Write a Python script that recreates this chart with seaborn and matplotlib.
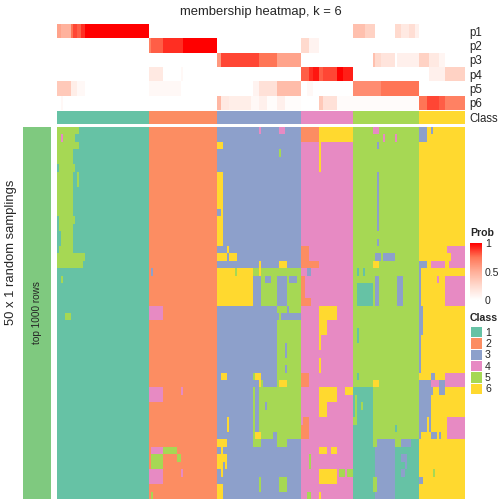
import matplotlib
matplotlib.use('Agg')
import matplotlib.pyplot as plt
from matplotlib.colors import ListedColormap, LinearSegmentedColormap, Normalize
from matplotlib.cm import ScalarMappable
import seaborn as sns
import numpy as np

sns.set_style('white')
plt.rcParams['font.family'] = ['Liberation Sans', 'DejaVu Sans']

# consensus classes (columns = samples, sorted by class)
class_ids = [1, 2, 3, 4, 5, 6]
class_colors = ['#66C2A5', '#FC8D62', '#8DA0CB', '#E78AC3', '#A6D854', '#FFD92F']
group_sizes = [46, 34, 42, 26, 33, 23]
n_rows = 50

# membership probabilities, run-length (value, n columns)
p1 = [(0.55, 2), (0.48, 5), (0.75, 1), (0.85, 2), (0.8, 2), (0.9, 2), (1.0, 32), (0, 102),
      (0.4, 6), (0.3, 5), (0, 10), (0.25, 3), (0.15, 4), (0.22, 3), (0.1, 2), (0, 23)]
p2 = [(0, 46), (0.7, 1), (0.8, 6), (0.9, 10), (1.0, 17), (0, 42), (0.25, 4), (0.08, 5), (0, 73)]
p3 = [(0, 80), (0.6, 2), (0.85, 19), (0.75, 9), (0.55, 12), (0, 36), (0.4, 1), (0.25, 3),
      (0.18, 7), (0, 1), (0.1, 11), (0.3, 5), (0.15, 5), (0.07, 3), (0, 10)]
p4 = [(0, 46), (0.15, 7), (0, 9), (0.05, 1), (0, 59), (0.8, 4), (0.9, 2), (0.95, 3), (0.8, 2),
      (0.85, 7), (1.0, 3), (0.93, 5), (0, 38), (0.1, 8), (0.3, 10)]
p5 = [(0.35, 7), (0.12, 3), (0.05, 4), (0, 32), (0.05, 16), (0, 36), (0.08, 3), (0.2, 9),
      (0.42, 12), (0, 3), (0.05, 3), (0, 20), (0.65, 14), (0.75, 19), (0, 23)]
p6 = [(0, 2), (0.05, 1), (0, 77), (0.45, 2), (0.15, 4), (0.12, 11), (0.05, 4), (0.1, 4),
      (0.02, 5), (0.1, 4), (0.02, 8), (0, 9), (0.35, 2), (0.2, 7), (0.03, 41), (0.75, 4),
      (0.85, 6), (0.8, 3), (0.7, 10)]

# class of each sample in each random sampling: (class, row_from, row_to, col_from, col_to)
dev_g1 = [(5, 0, 0, 0, 10), (5, 1, 1, 0, 8), (4, 1, 1, 2, 2), (5, 2, 2, 0, 10), (5, 3, 4, 0, 7),
          (5, 5, 5, 1, 8), (5, 6, 11, 0, 7), (5, 6, 7, 10, 10), (5, 12, 12, 1, 8),
          (5, 13, 13, 1, 7), (5, 14, 15, 2, 7), (5, 16, 16, 1, 7), (5, 17, 17, 0, 13),
          (5, 18, 18, 0, 12), (5, 20, 20, 2, 2), (5, 25, 25, 4, 6)]
dev_g2 = [(3, 19, 19, 47, 47), (4, 24, 25, 46, 52), (4, 35, 36, 46, 52), (4, 35, 35, 62, 62),
          (4, 43, 43, 47, 52), (5, 43, 43, 53, 59), (5, 44, 45, 47, 52), (5, 44, 44, 60, 61),
          (4, 46, 47, 46, 52), (4, 46, 46, 62, 62), (5, 49, 49, 47, 47)]
dev_g3 = [(4, 0, 0, 101, 101), (4, 0, 0, 111, 113), (6, 2, 2, 80, 82), (5, 3, 3, 111, 111),
          (6, 6, 15, 80, 82), (3, 11, 11, 80, 81), (6, 16, 16, 85, 85), (6, 17, 17, 80, 84),
          (6, 17, 17, 86, 89), (6, 18, 18, 101, 101), (6, 18, 18, 111, 114),
          (6, 19, 23, 80, 97), (5, 19, 19, 89, 89), (5, 19, 19, 98, 100), (6, 19, 19, 101, 101),
          (5, 19, 19, 102, 121), (5, 20, 23, 102, 109), (3, 20, 20, 104, 106),
          (5, 20, 23, 115, 121), (3, 20, 20, 116, 119), (5, 24, 24, 110, 114),
          (5, 24, 24, 116, 121), (5, 25, 25, 111, 111), (5, 26, 34, 110, 121),
          (3, 29, 30, 114, 114), (3, 32, 32, 114, 114), (6, 33, 33, 82, 84), (5, 33, 33, 98, 98),
          (6, 33, 33, 99, 101), (6, 34, 34, 101, 101), (5, 34, 34, 102, 102),
          (6, 34, 34, 111, 114), (5, 35, 42, 98, 98), (5, 35, 40, 101, 121),
          (3, 37, 37, 104, 104), (6, 39, 40, 85, 85), (6, 41, 41, 99, 101),
          (5, 41, 41, 102, 107), (5, 41, 41, 110, 121), (5, 42, 42, 99, 101),
          (5, 42, 42, 110, 114), (6, 42, 42, 80, 84), (6, 43, 43, 82, 82), (6, 44, 44, 80, 84),
          (6, 45, 45, 80, 82), (6, 45, 45, 84, 84), (6, 46, 46, 82, 82), (5, 47, 48, 101, 101),
          (5, 47, 48, 111, 114), (6, 48, 49, 80, 82)]
dev_g4 = [(2, 0, 1, 122, 130), (6, 0, 1, 131, 147), (6, 2, 5, 131, 131), (2, 16, 17, 122, 125),
          (2, 18, 18, 122, 130), (3, 19, 19, 125, 126), (2, 20, 22, 122, 123),
          (2, 23, 23, 122, 126), (6, 24, 25, 131, 139), (6, 26, 27, 131, 134),
          (6, 28, 29, 131, 131), (6, 31, 32, 131, 131), (2, 33, 34, 122, 125),
          (6, 35, 36, 131, 139), (6, 35, 35, 144, 147), (6, 37, 38, 131, 134),
          (2, 39, 41, 123, 125), (2, 40, 41, 122, 122), (6, 43, 43, 131, 134),
          (6, 43, 43, 137, 139), (5, 44, 45, 126, 126), (6, 46, 47, 131, 139),
          (5, 46, 46, 141, 143), (5, 46, 46, 145, 147), (5, 49, 49, 125, 126),
          (6, 49, 49, 131, 131)]
dev_g5 = [(4, 0, 0, 158, 160), (4, 1, 1, 163, 163), (4, 1, 1, 169, 169), (3, 2, 2, 160, 160),
          (3, 6, 13, 160, 160), (3, 15, 15, 160, 160), (3, 17, 17, 159, 161),
          (3, 17, 17, 163, 168), (6, 18, 18, 158, 160), (1, 19, 19, 150, 150),
          (1, 19, 19, 153, 153), (1, 21, 23, 150, 157), (3, 20, 23, 159, 160),
          (3, 20, 23, 170, 172), (1, 27, 28, 150, 150), (1, 33, 33, 150, 150),
          (6, 34, 34, 158, 160), (1, 35, 49, 148, 157), (5, 36, 38, 149, 149),
          (5, 37, 37, 152, 152), (5, 39, 39, 148, 149), (1, 40, 40, 169, 169),
          (3, 42, 42, 160, 168), (3, 42, 42, 172, 176), (1, 42, 42, 177, 180),
          (1, 43, 49, 158, 158), (3, 43, 49, 159, 168), (1, 43, 49, 169, 180),
          (3, 44, 44, 172, 174), (3, 45, 45, 174, 174), (3, 46, 46, 172, 173),
          (5, 47, 48, 158, 159)]
dev_g6 = [(3, 0, 1, 181, 184), (3, 0, 0, 187, 187), (4, 16, 17, 195, 203), (6, 17, 17, 195, 196),
          (3, 18, 18, 181, 184), (4, 18, 18, 187, 193), (4, 18, 18, 196, 203),
          (3, 19, 23, 181, 181), (4, 20, 20, 190, 190), (4, 20, 23, 194, 203),
          (3, 24, 27, 181, 182), (3, 28, 32, 181, 181), (3, 33, 33, 187, 188),
          (4, 33, 33, 194, 203), (3, 34, 34, 181, 186), (4, 34, 34, 187, 190),
          (3, 34, 34, 191, 193), (4, 34, 34, 194, 203), (3, 35, 35, 181, 187),
          (3, 35, 35, 191, 193), (3, 36, 38, 181, 186), (3, 39, 40, 181, 184),
          (3, 39, 40, 186, 186), (4, 39, 41, 195, 203), (3, 41, 41, 181, 181),
          (3, 41, 41, 187, 189), (3, 41, 41, 191, 191), (5, 46, 46, 188, 188),
          (3, 47, 47, 181, 182)]


def expand(runs):
    return np.concatenate([np.full(n, v, dtype=float) for v, n in runs])


classes = np.repeat(class_ids, group_sizes)
prob = np.vstack([expand(p) for p in [p1, p2, p3, p4, p5, p6]])

mat = np.tile(classes, (n_rows, 1))
for dev in [dev_g1, dev_g2, dev_g3, dev_g4, dev_g5, dev_g6]:
    for k, r0, r1, c0, c1 in dev:
        mat[r0:r1 + 1, c0:c1 + 1] = k

class_cmap = ListedColormap(class_colors)
prob_cmap = LinearSegmentedColormap.from_list(
    'prob', [(0, '#FFFFFF'), (0.25, '#FFDACE'), (0.5, '#FFAE98'), (0.75, '#FF7657'), (1, '#FF0000')])

W = 504.0


def box(x0, y0, x1, y1):
    return [x0 / W, 1 - y1 / W, (x1 - x0) / W, (y1 - y0) / W]


fig = plt.figure(figsize=(7, 7), dpi=72)

ax_mem = fig.add_axes(box(57, 24, 465, 110))
sns.heatmap(prob, ax=ax_mem, cmap=prob_cmap, vmin=0, vmax=1, cbar=False,
            xticklabels=False, yticklabels=['p1', 'p2', 'p3', 'p4', 'p5', 'p6'])
ax_mem.yaxis.tick_right()
ax_mem.tick_params(axis='y', length=0, pad=4, labelsize=11.5, labelrotation=0)

ax_cls = fig.add_axes(box(57, 110.7, 465, 123.7))
sns.heatmap(classes[None, :], ax=ax_cls, cmap=class_cmap, vmin=0.5, vmax=6.5, cbar=False,
            xticklabels=False, yticklabels=['Class'])
ax_cls.yaxis.tick_right()
ax_cls.tick_params(axis='y', length=0, pad=4, labelsize=11.5, labelrotation=0)

ax_main = fig.add_axes(box(57, 127, 465, 499))
sns.heatmap(mat, ax=ax_main, cmap=class_cmap, vmin=0.5, vmax=6.5, cbar=False,
            xticklabels=False, yticklabels=False)

ax_left = fig.add_axes(box(23, 127, 51, 499))
sns.heatmap(np.ones((n_rows, 1)), ax=ax_left, cmap=ListedColormap(['#7FC97F']), cbar=False,
            xticklabels=False, yticklabels=False)
ax_left.text(0.5, 0.5, 'top 1000 rows', transform=ax_left.transAxes, rotation=90,
             ha='center', va='center', fontsize=10)

fig.text(261 / W, 1 - 12 / W, 'membership heatmap, k = 6', ha='center', va='center', fontsize=13)
fig.text(11 / W, 0.5, '50 x 1 random samplings', rotation=90, ha='center', va='center', fontsize=13)

# legends
fig.text(470 / W, 1 - 233 / W, 'Prob', fontweight='bold', fontsize=10.5, ha='left', va='center')
ax_cb = fig.add_axes(box(470, 243, 482, 300))
cb = fig.colorbar(ScalarMappable(norm=Normalize(0, 1), cmap=prob_cmap), cax=ax_cb, ticks=[0, 0.5, 1])
cb.outline.set_visible(False)
cb.ax.set_yticklabels(['0', '0.5', '1'])
cb.ax.tick_params(length=2, color='white', direction='in', labelsize=10.5, pad=3)

fig.text(470 / W, 1 - 318 / W, 'Class', fontweight='bold', fontsize=10.5, ha='left', va='center')
ax_leg = fig.add_axes(box(470, 326, 482, 394))
sns.heatmap(np.array(class_ids)[:, None], ax=ax_leg, cmap=class_cmap, vmin=0.5, vmax=6.5,
            cbar=False, linewidths=1, linecolor='white', xticklabels=False,
            yticklabels=[str(i) for i in class_ids])
ax_leg.yaxis.tick_right()
ax_leg.tick_params(axis='y', length=0, pad=3, labelsize=10.5, labelrotation=0)

fig.savefig('out.png', dpi=72)
